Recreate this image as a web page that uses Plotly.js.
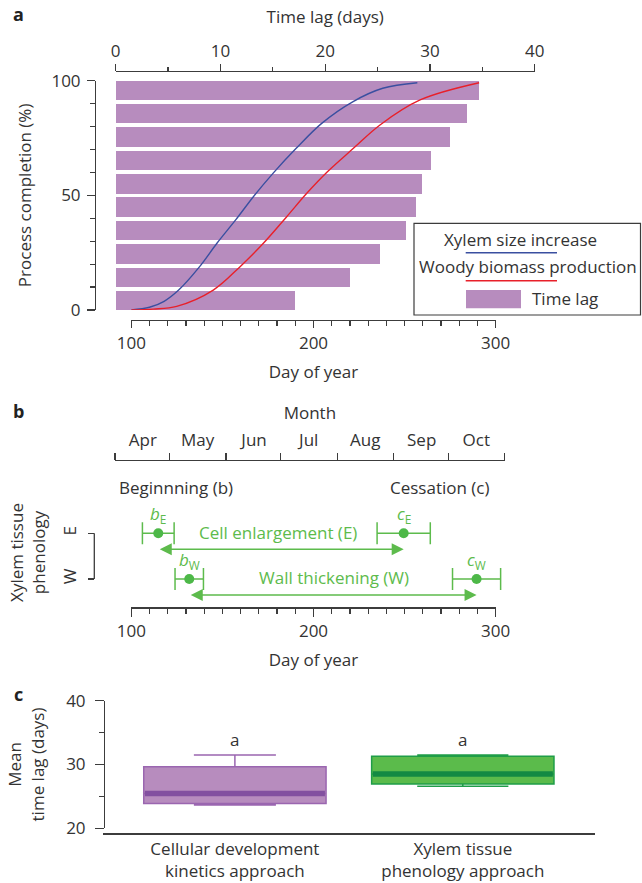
<!DOCTYPE html>
<html><head><meta charset="utf-8">
<script src="https://cdn.plot.ly/plotly-3.0.1.min.js"></script>
<style>html,body{margin:0;padding:0;background:#fff}#chart{width:642px;height:883px}</style>
</head><body><div id="chart"></div>
<script>
// ---------- Panel a data ----------
const completionLevels = [4.1, 14.1, 24.4, 34.6, 44.9, 55.0, 65.1, 75.4, 85.6, 95.8];
const timeLagDays      = [17.1, 22.4, 25.2, 27.7, 28.7, 29.2, 30.1, 31.9, 33.5, 34.7];
const xylemDay = [100, 110, 118, 126, 137.5, 147, 157.5, 167, 178, 190.5, 204.5, 221.5, 238, 257];
const xylemPct = [0, 1.2, 3.8, 8.7, 18.9, 29.1, 39.5, 49.4, 59.8, 70.5, 81.4, 90.8, 96.7, 99.1];
const woodyDay = [100, 112, 124.9, 145.0, 159.7, 172.5, 185.3, 196.3, 207.5, 221.9, 236.5, 258.5, 290.9];
const woodyPct = [0, 0.4, 1.6, 8.7, 18.9, 29.1, 40.7, 50.9, 60.2, 70.5, 80.7, 91.6, 99.1];
const legendNames = ['Xylem size increase', 'Woody biomass production', 'Time lag'];

// ---------- Panel b data ----------
const monthStarts = [91, 121, 152, 182, 213, 244, 274, 305];
const monthNames = ['Apr', 'May', 'Jun', 'Jul', 'Aug', 'Sep', 'Oct'];
const phenoRows = ['W', 'E'];
const enlargeDays = [114.8, 249.5];   // b_E, c_E
const enlargeErr  = [8.7, 14.6];
const thickenDays = [131.8, 289.5];   // b_W, c_W
const thickenErr  = [7.8, 13.2];
const phenoLabels = ['Cell enlargement (E)', 'Wall thickening (W)'];

// ---------- Panel c data ----------
const approaches = ['Cellular development<br>kinetics approach', 'Xylem tissue<br>phenology approach'];
const lagQ1     = [23.9, 26.95];
const lagMedian = [25.45, 28.5];
const lagQ3     = [29.65, 31.3];
const lagLow    = [23.65, 26.6];
const lagHigh   = [31.5, 31.5];
const sigLetters = ['a', 'a'];

// ---------- helpers / style ----------
const W = 642, H = 883;
const px = v => v / W;
const py = v => 1 - v / H;
const FONT = 'Open Sans, Noto Sans, sans-serif';
const TXT = '#333333';
const AX = '#3c3c3c';
const FS = 17;
const PURPLE = '#b78cbe';
const BLUE = '#3a4fa0';
const RED = '#e8202a';
const GREEN = '#5dbb4c';
const GREEN_DOT = '#4db848';

// day-of-year pixel scale shared by panels a and b
const DAY100 = 131.3, DAY300 = 495.7;
const dayScale = (DAY300 - DAY100) / 200;
const dayPx = d => DAY100 + (d - 100) * dayScale;
// phenology rows (pixel positions of W and E rows) and y2 window
const ROW_E = 533.3, ROW_W = 579, Y2_TOP = 505, Y2_BOT = 600;
const rowUnit = ROW_W - ROW_E;

function axBase(extra) {
  return Object.assign({
    showline: true, linecolor: AX, linewidth: 1.3,
    tickcolor: AX, tickwidth: 1.3, showgrid: false, zeroline: false,
    tickfont: {family: FONT, size: FS, color: TXT}, fixedrange: true
  }, extra);
}

const traces = [];
// Panel a bars (time lag axis on top) - drawn first
traces.push({type: 'bar', orientation: 'h', x: timeLagDays, y: completionLevels,
  xaxis: 'x', yaxis: 'y', width: 8.4, marker: {color: PURPLE, line: {width: 0}},
  hoverinfo: 'skip', showlegend: false});
// Panel a curves (day of year axis) - drawn over the bars
traces.push({type: 'scatter', mode: 'lines', x: xylemDay, y: xylemPct, xaxis: 'x2', yaxis: 'y',
  line: {color: BLUE, width: 1.4, shape: 'spline', smoothing: 1}, hoverinfo: 'skip', showlegend: false});
traces.push({type: 'scatter', mode: 'lines', x: woodyDay, y: woodyPct, xaxis: 'x2', yaxis: 'y',
  line: {color: RED, width: 1.4, shape: 'spline', smoothing: 1}, hoverinfo: 'skip', showlegend: false});

// Panel b: day-of-year axis anchor trace (no visible marks)
traces.push({type: 'scatter', mode: 'none', x: [100, 300], y: [0.5, 0.5],
  xaxis: 'x5', yaxis: 'y2', hoverinfo: 'skip', showlegend: false});
// Panel b phenology points with error bars (on the month axis, same day scale)
traces.push({type: 'scatter', mode: 'markers', x: enlargeDays, y: enlargeDays.map(() => 1),
  xaxis: 'x3', yaxis: 'y2', cliponaxis: false,
  marker: {color: GREEN_DOT, size: 10},
  error_x: {type: 'data', array: enlargeErr, color: GREEN, thickness: 1.5, width: 11},
  hoverinfo: 'skip', showlegend: false});
traces.push({type: 'scatter', mode: 'markers', x: thickenDays, y: thickenDays.map(() => 0),
  xaxis: 'x3', yaxis: 'y2', cliponaxis: false,
  marker: {color: GREEN_DOT, size: 10},
  error_x: {type: 'data', array: thickenErr, color: GREEN, thickness: 1.5, width: 11},
  hoverinfo: 'skip', showlegend: false});

// Panel c boxes
const boxFill = [PURPLE, '#5bbb4b'];
const boxLine = ['#9a66b0', '#1f9d48'];
const medCol  = ['#8350a0', '#138a43'];
const whiskW  = [0.45, 0.5];
const boxW = 0.8;
approaches.forEach((a, i) => {
  traces.push({type: 'box', x: [i], q1: [lagQ1[i]], median: [lagMedian[i]], q3: [lagQ3[i]],
    lowerfence: [lagLow[i]], upperfence: [lagHigh[i]], xaxis: 'x6', yaxis: 'y3',
    width: boxW, whiskerwidth: whiskW[i], fillcolor: boxFill[i],
    line: {color: boxLine[i], width: 1.5}, boxpoints: false, hoverinfo: 'skip', showlegend: false});
  traces.push({type: 'scatter', mode: 'lines', x: [i - boxW / 2 + 0.005, i + boxW / 2 - 0.005],
    y: [lagMedian[i], lagMedian[i]], xaxis: 'x6', yaxis: 'y3',
    line: {color: medCol[i], width: 5.5}, hoverinfo: 'skip', showlegend: false});
});

const annotations = [];
const shapes = [];
function ann(o) { annotations.push(Object.assign({showarrow: false, font: {family: FONT, size: FS, color: TXT}}, o)); }

// panel letters
[['a', 14], ['b', 411], ['c', 694]].forEach(([t, y]) => ann({text: '<b>' + t + '</b>', xref: 'paper', yref: 'paper',
  x: px(18), y: py(y), xanchor: 'center', yanchor: 'middle', font: {family: FONT, size: 18, color: '#222'}}));

// panel a legend (box, lines, swatch, texts)
shapes.push({type: 'rect', xref: 'paper', yref: 'paper', x0: px(414), x1: px(640.5), y0: py(315), y1: py(223.3),
  line: {color: AX, width: 1.2}, fillcolor: 'rgba(255,255,255,1)'});
shapes.push({type: 'line', xref: 'paper', yref: 'paper', x0: px(465.7), x1: px(557), y0: py(252.7), y1: py(252.7), line: {color: BLUE, width: 1.4}});
shapes.push({type: 'line', xref: 'paper', yref: 'paper', x0: px(465.7), x1: px(557), y0: py(280.7), y1: py(280.7), line: {color: RED, width: 1.4}});
shapes.push({type: 'rect', xref: 'paper', yref: 'paper', x0: px(466), x1: px(521), y0: py(308.3), y1: py(290), line: {width: 0}, fillcolor: PURPLE});
ann({text: legendNames[0], xref: 'paper', yref: 'paper', x: px(520.7), y: py(240), xanchor: 'center', yanchor: 'middle'});
ann({text: legendNames[1], xref: 'paper', yref: 'paper', x: px(528), y: py(266.7), xanchor: 'center', yanchor: 'middle'});
ann({text: legendNames[2], xref: 'paper', yref: 'paper', x: px(530), y: py(298.3), xanchor: 'left', yanchor: 'middle'});

// panel b: E–W bracket line of the row axis
shapes.push({type: 'line', xref: 'paper', yref: 'y2', x0: px(94.3), x1: px(94.3), y0: 0, y1: 1, line: {color: AX, width: 1.3}});
// panel b texts
ann({text: 'Beginnning (b)', xref: 'paper', yref: 'paper', x: px(116.7), y: py(487.3), xanchor: 'left', yanchor: 'middle'});
ann({text: 'Cessation (c)', xref: 'paper', yref: 'paper', x: px(492.3), y: py(487.3), xanchor: 'right', yanchor: 'middle'});
ann({text: phenoLabels[0], xref: 'paper', yref: 'paper', x: px(278.3), y: py(532.7), xanchor: 'center', yanchor: 'middle', font: {family: FONT, size: FS, color: GREEN}});
ann({text: phenoLabels[1], xref: 'paper', yref: 'paper', x: px(334), y: py(577.7), xanchor: 'center', yanchor: 'middle', font: {family: FONT, size: FS, color: GREEN}});
const subLab = [['b', 'E', enlargeDays[0], 1], ['c', 'E', enlargeDays[1], 1], ['b', 'W', thickenDays[0], 0], ['c', 'W', thickenDays[1], 0]];
subLab.forEach(([l, s, x, y]) => ann({text: '<i>' + l + '</i><sub>' + s + '</sub>', xref: 'x3', yref: 'y2', x: x, y: y,
  yshift: 19, xanchor: 'center', yanchor: 'middle', font: {family: FONT, size: FS, color: GREEN}}));
// double-headed arrows from beginning to cessation
[[enlargeDays, 1], [thickenDays, 0]].forEach(([d, y]) => annotations.push({text: '', xref: 'x3', yref: 'y2', axref: 'x3', ayref: 'y2',
  x: d[1], y: y, ax: d[0], ay: y, yshift: -16, showarrow: true, arrowside: 'end+start', arrowhead: 2, startarrowhead: 2,
  arrowsize: 1.6, startarrowsize: 1.6, arrowwidth: 1.5, arrowcolor: GREEN, standoff: 0, startstandoff: 0}));

// panel c significance letters
sigLetters.forEach((t, i) => ann({text: t, xref: 'x6', yref: 'y3', x: i, y: lagHigh[i], yshift: 15, xanchor: 'center', yanchor: 'middle'}));

const titleFont = {family: FONT, size: FS, color: TXT};
const layout = {
  width: W, height: H, margin: {l: 0, r: 0, t: 0, b: 0}, paper_bgcolor: '#fff', plot_bgcolor: 'rgba(0,0,0,0)',
  showlegend: false, font: {family: FONT, size: FS, color: TXT}, bargap: 0,
  // Panel a: time lag (top)
  xaxis: axBase({domain: [px(115.7), px(534.7)], range: [0, 40], anchor: 'free', position: py(70.7), side: 'top',
    tickmode: 'linear', tick0: 0, dtick: 10, ticks: 'outside', ticklen: 7,
    minor: {ticks: 'outside', ticklen: 4, tickmode: 'linear', tick0: 0, dtick: 5, tickcolor: AX, tickwidth: 1.2},
    title: {text: 'Time lag (days)', font: titleFont, standoff: 9}}),
  // Panel a: day of year (bottom)
  xaxis2: axBase({domain: [px(dayPx(100)), px(dayPx(300))], range: [100, 300], anchor: 'free', position: py(320), side: 'bottom',
    tickmode: 'linear', tick0: 100, dtick: 100, ticks: 'outside', ticklen: 7,
    minor: {ticks: 'outside', ticklen: 5, tickmode: 'linear', tick0: 100, dtick: 10, tickcolor: AX, tickwidth: 1.2},
    title: {text: 'Day of year', font: titleFont, standoff: 13}}),
  yaxis: axBase({domain: [py(310), py(80.7)], range: [0, 100], anchor: 'free', position: px(95),
    tickmode: 'linear', tick0: 0, dtick: 50, ticks: 'outside', ticklen: 8,
    minor: {ticks: 'outside', ticklen: 5, tickmode: 'linear', tick0: 0, dtick: 10, tickcolor: AX, tickwidth: 1.2},
    ticklabelstandoff: 3,
    title: {text: 'Process completion (%)', font: titleFont, standoff: 14}}),
  // Panel b: month axis (same day scale); labels shifted to the middle of each month
  xaxis3: axBase({domain: [px(dayPx(monthStarts[0])), px(dayPx(monthStarts[monthStarts.length - 1]))],
    range: [monthStarts[0], monthStarts[monthStarts.length - 1]],
    anchor: 'free', position: py(460), side: 'top', tickmode: 'array', tickvals: monthStarts,
    ticktext: monthNames.concat(['']), ticklabelshift: Math.round(15.25 * dayScale), ticks: 'outside', ticklen: 7,
    title: {text: 'Month', font: titleFont, standoff: 3}}),
  // Panel b: day of year axis
  xaxis5: axBase({domain: [px(dayPx(100)), px(dayPx(300))], range: [100, 300], anchor: 'free', position: py(607.3), side: 'bottom',
    tickmode: 'linear', tick0: 100, dtick: 100, ticks: 'outside', ticklen: 8,
    minor: {ticks: 'outside', ticklen: 5, tickmode: 'linear', tick0: 100, dtick: 10, tickcolor: AX, tickwidth: 1.2},
    title: {text: 'Day of year', font: titleFont, standoff: 13}}),
  yaxis2: axBase({domain: [py(Y2_BOT), py(Y2_TOP)], range: [(ROW_W - Y2_BOT) / rowUnit, 1 + (ROW_E - Y2_TOP) / rowUnit],
    anchor: 'free', position: px(94.3), showline: false,
    tickmode: 'array', tickvals: [0, 1], ticktext: phenoRows, tickangle: -90, ticks: 'outside', ticklen: 6,
    ticklabelstandoff: 6,
    title: {text: 'Xylem tissue<br>phenology', font: titleFont, standoff: 6}}),
  // Panel c
  xaxis6: axBase({domain: [px(102.7), px(595)], range: [-0.58, 1.58], anchor: 'free', position: py(833.3), side: 'bottom',
    tickmode: 'array', tickvals: approaches.map((a, i) => i), ticktext: approaches, ticks: '', ticklabelstandoff: 0}),
  yaxis3: axBase({domain: [py(828.3), py(700.7)], range: [20, 40], anchor: 'free', position: px(104),
    tickmode: 'linear', tick0: 20, dtick: 10, ticks: 'outside', ticklen: 9,
    minor: {ticks: 'outside', ticklen: 5, tickmode: 'linear', tick0: 20, dtick: 5, tickcolor: AX, tickwidth: 1.2},
    ticklabelstandoff: 6,
    title: {text: 'Mean<br>time lag (days)', font: titleFont, standoff: 16}}),
  annotations: annotations, shapes: shapes
};

Plotly.newPlot('chart', traces, layout, {displayModeBar: false, staticPlot: true});
</script></body></html>
